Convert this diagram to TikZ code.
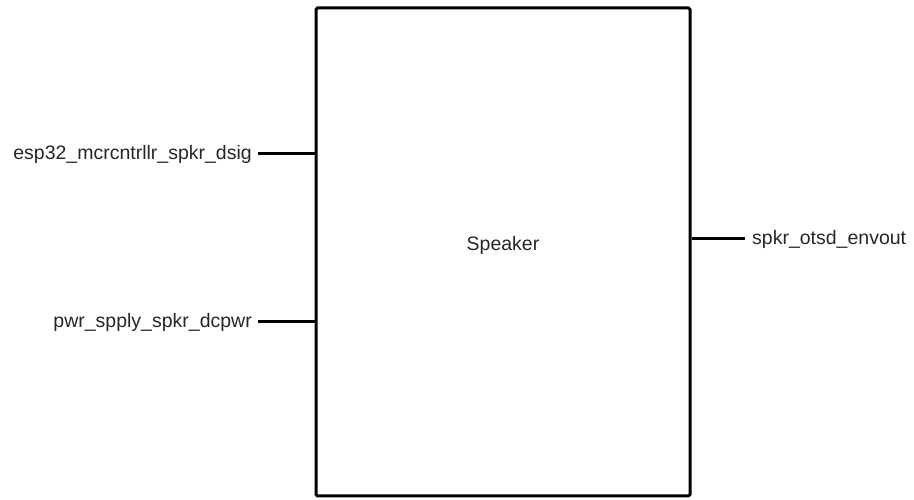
\documentclass[tikz,border=0pt]{standalone}
\usepackage{fontspec}
\setmainfont{Liberation Sans}
\begin{document}
\begin{tikzpicture}[x=1pt,y=1pt,
  blk/.style={draw=black, line width=3pt, rounded corners=1.5pt, fill=white, minimum width=374pt, minimum height=488pt, inner sep=0pt},
  pin/.style={draw=black, line width=3pt},
  lbl/.style={font=\fontsize{19.5}{22}\selectfont, text=black!85, inner sep=0pt}]
\useasboundingbox (0,0) rectangle (914,500);
\node[blk] (spk) at (503,248) {};
\node[lbl] (name) at (503,255) {Speaker};
\coordinate (p1) at (258,346);
\coordinate (p2) at (258,178);
\coordinate (p3) at (745,261);
\draw[pin] (p1) -- (p1 -| spk.west);
\draw[pin] (p2) -- (p2 -| spk.west);
\draw[pin] (p3 -| spk.east) -- (p3);
\node[lbl, anchor=east] (l1) at (252,346) {esp32\_mcrcntrllr\_spkr\_dsig};
\node[lbl, anchor=east] (l2) at (252,178) {pwr\_spply\_spkr\_dcpwr};
\node[lbl, anchor=west] (l3) at (752,261) {spkr\_otsd\_envout};
\end{tikzpicture}
\end{document}
